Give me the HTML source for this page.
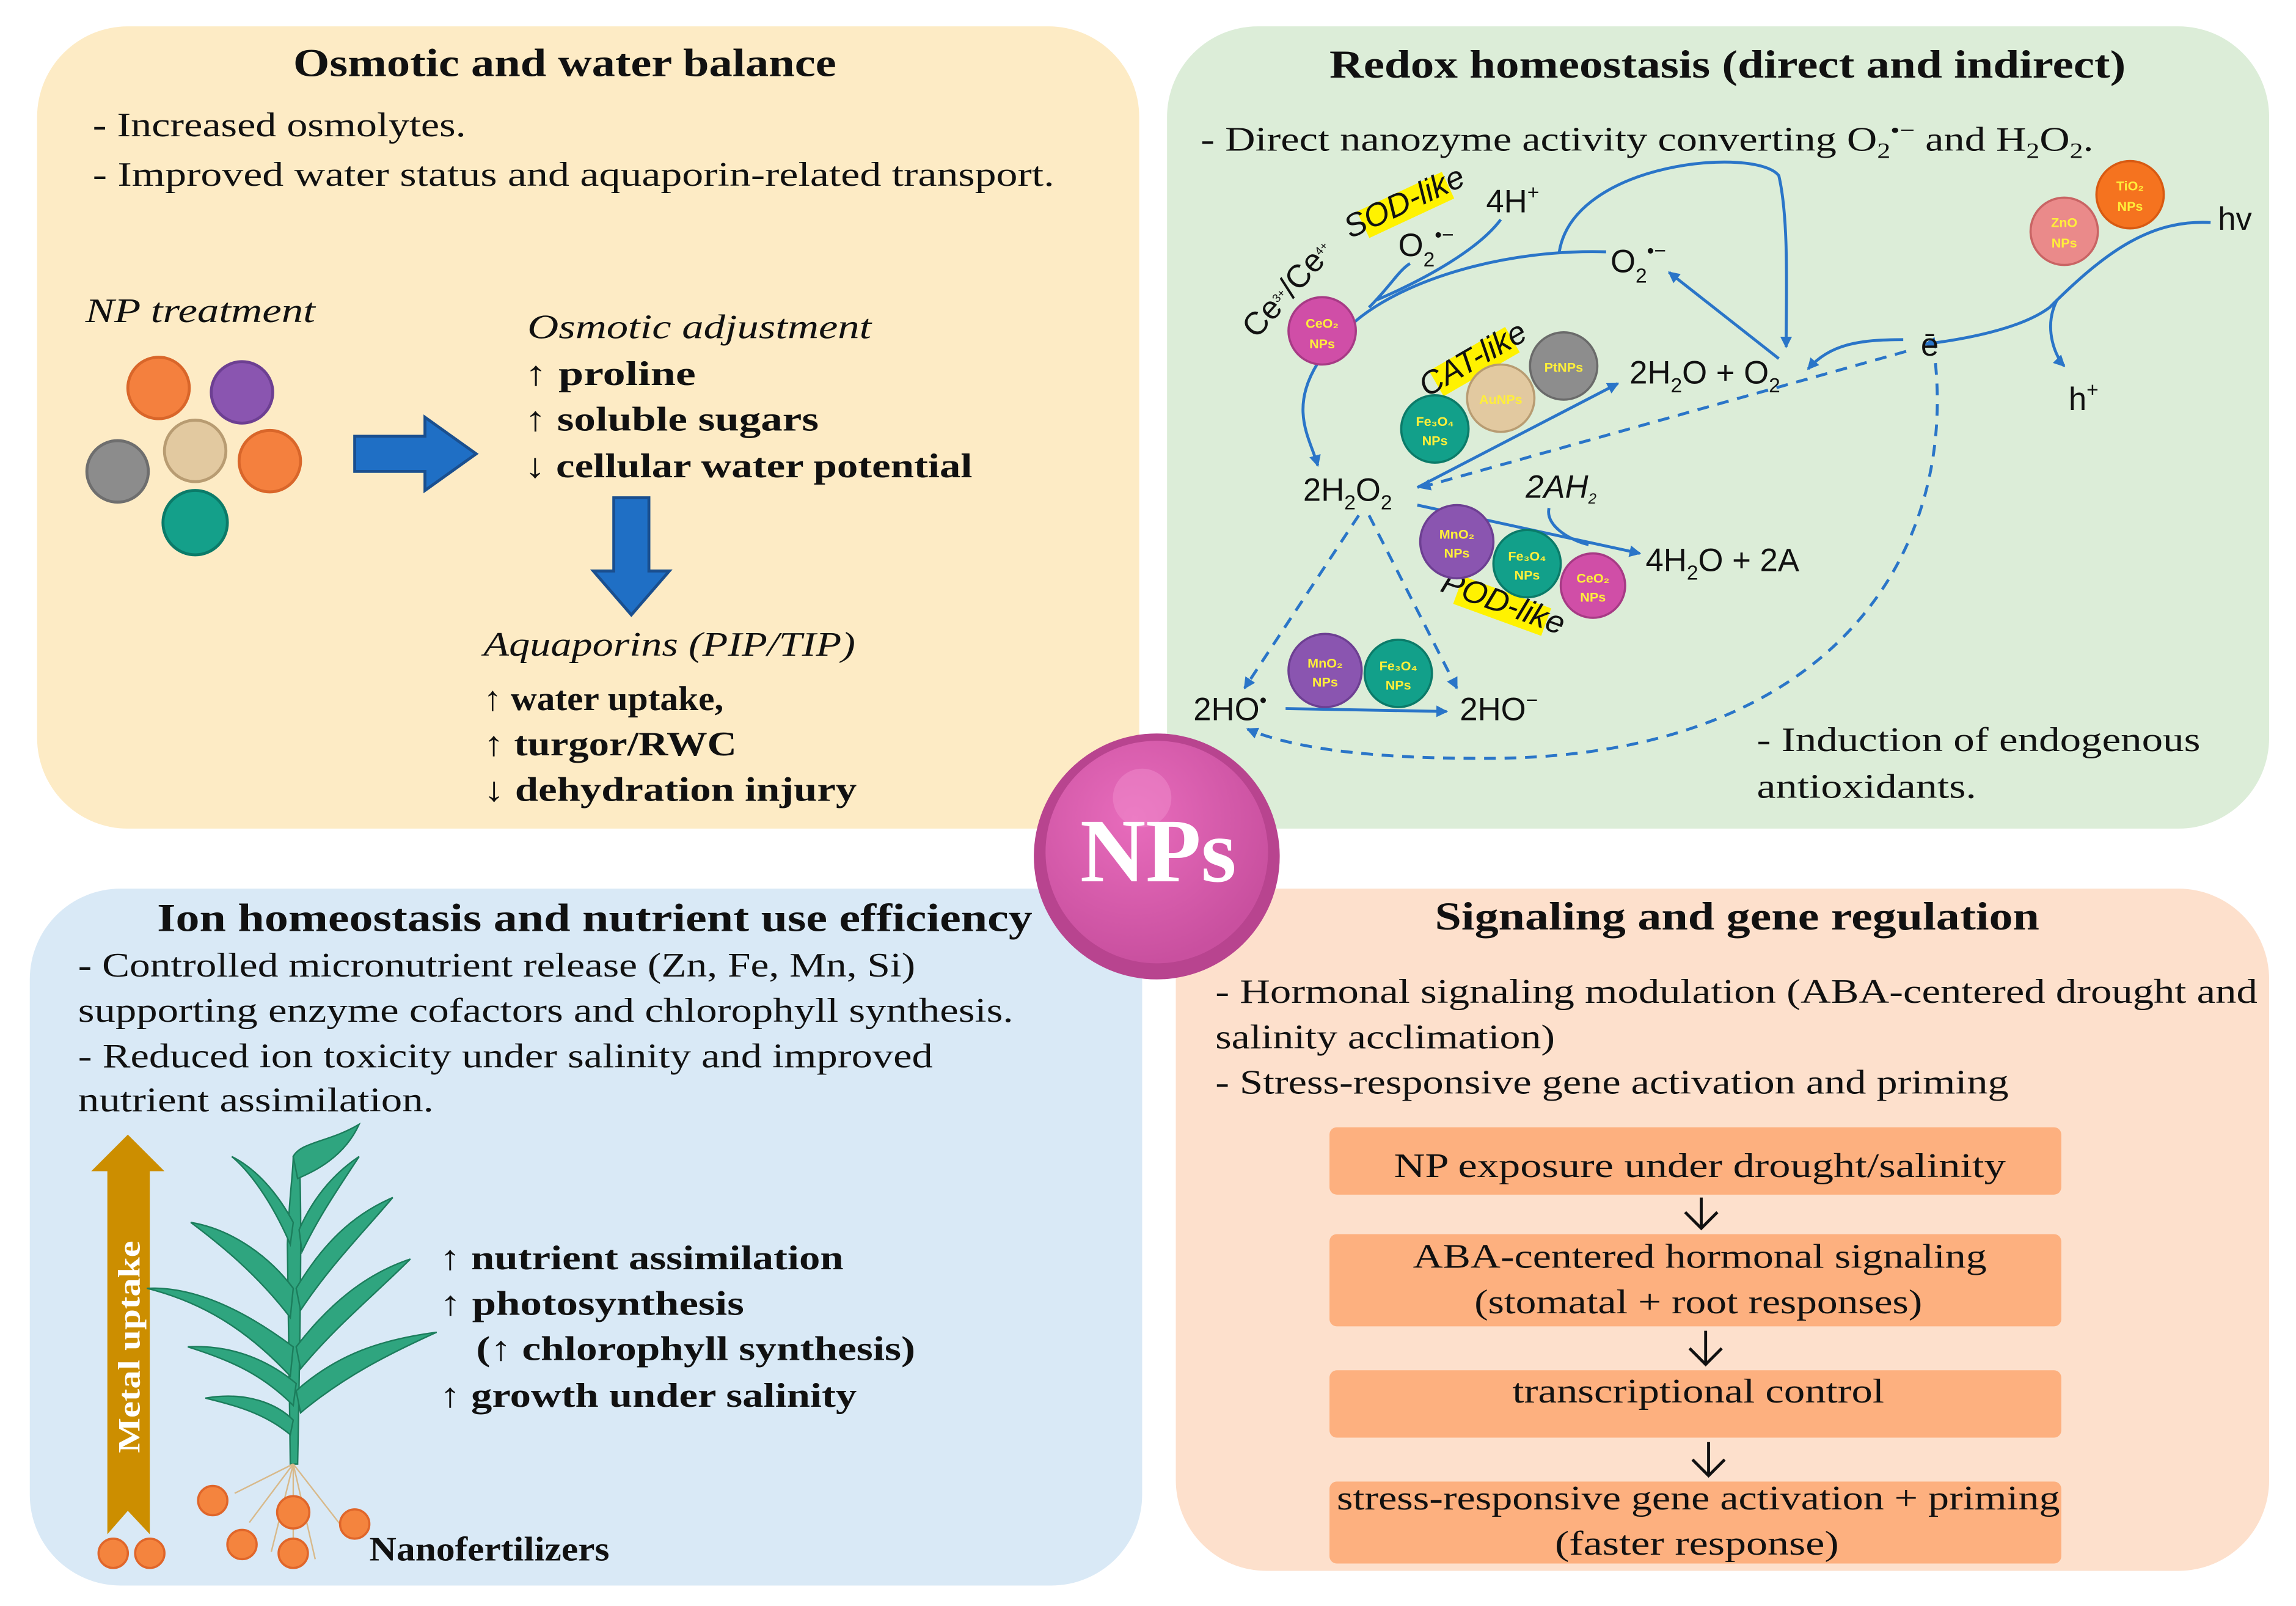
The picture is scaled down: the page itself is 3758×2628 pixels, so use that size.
<!DOCTYPE html>
<html><head><meta charset="utf-8"><style>
html,body{margin:0;padding:0;background:#fff}
svg{display:block}
text{font-family:"Liberation Serif",serif;fill:#111}
.t{font-size:27px;font-weight:bold}
.b{font-size:23.5px}
.bb{font-size:23.5px;font-weight:bold}
.s{font-family:"Liberation Sans",sans-serif;font-size:22px}
.np{font-family:"Liberation Sans",sans-serif;font-size:9px;fill:#ffef3a;font-weight:bold}
</style></head><body>
<svg width="3758" height="2628" viewBox="0 0 1568 1097" xmlns="http://www.w3.org/2000/svg">
<defs>
<marker id="a" markerWidth="8" markerHeight="8" refX="7" refY="4" orient="auto" markerUnits="userSpaceOnUse"><path d="M0,0 L8,4 L0,8 Z" fill="#2a75c8"/></marker>
<radialGradient id="g" cx="40%" cy="35%" r="65%"><stop offset="0" stop-color="#e86cbc"/><stop offset="1" stop-color="#c9509f"/></radialGradient>
</defs>
<!-- panels -->
<rect x="25" y="18" width="753" height="548" rx="62" fill="#fdebc5"/>
<rect x="797" y="18" width="753" height="548" rx="62" fill="#dcedd8"/>
<rect x="20" y="607" width="760" height="476" rx="62" fill="#d9e9f6"/>
<rect x="803" y="607" width="747" height="466" rx="62" fill="#fde0cc"/>

<!-- Yellow panel -->
<text class="t" x="200" y="52" textLength="371" lengthAdjust="spacingAndGlyphs">Osmotic and water balance</text>
<text class="b" x="63" y="93" textLength="255" lengthAdjust="spacingAndGlyphs">- Increased osmolytes.</text>
<text class="b" x="63" y="127" textLength="657" lengthAdjust="spacingAndGlyphs">- Improved water status and aquaporin-related transport.</text>
<text class="b" x="58" y="220" font-style="italic" textLength="157" lengthAdjust="spacingAndGlyphs">NP treatment</text>
<g stroke-width="2">
<circle cx="108" cy="265" r="21" fill="#f4803e" stroke="#d9662a"/>
<circle cx="165" cy="268" r="21" fill="#8a55b0" stroke="#6d3f92"/>
<circle cx="80" cy="322" r="21" fill="#8c8c8c" stroke="#6e6e6e"/>
<circle cx="133" cy="308" r="21" fill="#e2c9a0" stroke="#b89c72"/>
<circle cx="184" cy="315" r="21" fill="#f4803e" stroke="#d9662a"/>
<circle cx="133" cy="357" r="22" fill="#14a08a" stroke="#0b7b69"/>
</g>
<path d="M242,298 L290,298 L290,285 L325,310 L290,335 L290,322 L242,322 Z" fill="#1f6fc5" stroke="#1a4f8f" stroke-width="2"/>
<text class="b" x="360" y="231" font-style="italic" textLength="235" lengthAdjust="spacingAndGlyphs">Osmotic adjustment</text>
<text class="bb" x="358" y="263" textLength="117" lengthAdjust="spacingAndGlyphs">↑ proline</text>
<text class="bb" x="358" y="294" textLength="201" lengthAdjust="spacingAndGlyphs">↑ soluble sugars</text>
<text class="bb" x="358" y="326" textLength="306" lengthAdjust="spacingAndGlyphs">↓ cellular water potential</text>
<path d="M419,340 L443,340 L443,390 L457,390 L431,420 L405,390 L419,390 Z" fill="#1f6fc5" stroke="#1a4f8f" stroke-width="2"/>
<text class="b" x="330" y="448" font-style="italic" textLength="254" lengthAdjust="spacingAndGlyphs">Aquaporins (PIP/TIP)</text>
<text class="bb" x="330" y="485" textLength="164" lengthAdjust="spacingAndGlyphs">↑ water uptake,</text>
<text class="bb" x="330" y="516" textLength="173" lengthAdjust="spacingAndGlyphs">↑ turgor/RWC</text>
<text class="bb" x="330" y="547" textLength="255" lengthAdjust="spacingAndGlyphs">↓ dehydration injury</text>

<!-- Green panel -->
<text class="t" x="908" y="53" textLength="544" lengthAdjust="spacingAndGlyphs">Redox homeostasis (direct and indirect)</text>
<text class="b" x="820" y="103" textLength="610" lengthAdjust="spacingAndGlyphs">- Direct nanozyme activity converting O<tspan font-size="15" dy="5">2</tspan><tspan font-size="15" dy="-14">•−</tspan><tspan dy="9"> and H</tspan><tspan font-size="15" dy="5">2</tspan><tspan dy="-5">O</tspan><tspan font-size="15" dy="5">2</tspan><tspan dy="-5">.</tspan></text>
<g fill="none" stroke="#2a75c8" stroke-width="2">
<path d="M900,248 C880,280 895,300 900,318" marker-end="url(#a)"/>
<path d="M925,220 C960,190 1030,170 1097,172"/>
<path d="M935,210 C950,195 955,185 963,180"/>
<path d="M940,205 C975,190 1010,170 1025,150"/>
<path d="M1065,172 C1075,110 1200,100 1215,120 C1222,150 1220,200 1220,237" marker-end="url(#a)"/>
<path d="M1215,245 L1140,186" marker-end="url(#a)"/>
<path d="M968,333 L1105,262" marker-end="url(#a)"/>
<path d="M1300,232 C1270,232 1250,235 1235,252" marker-end="url(#a)"/>
<path d="M1510,152 C1470,150 1440,170 1400,210 C1380,225 1340,232 1315,235" marker-end="url(#a)"/>
<path d="M1405,205 C1395,225 1405,245 1410,250" marker-end="url(#a)"/>
<path d="M968,345 L1120,378" marker-end="url(#a)"/>
<path d="M1058,347 C1055,360 1075,370 1085,372"/>
<path d="M878,484 L988,486" marker-end="url(#a)"/>
</g>
<g fill="none" stroke="#2a75c8" stroke-width="2" stroke-dasharray="8,6">
<path d="M1302,240 L970,333" marker-end="url(#a)"/>
<path d="M928,352 L850,470" marker-end="url(#a)"/>
<path d="M935,352 L995,470" marker-end="url(#a)"/>
<path d="M1322,248 C1335,380 1250,520 1010,518 C930,518 880,510 852,498" marker-end="url(#a)"/>
</g>
<text class="s" x="1015" y="145">4H<tspan font-size="14" dy="-9">+</tspan></text>
<text class="s" x="955" y="175">O<tspan font-size="14" dy="7">2</tspan><tspan font-size="14" dy="-17">•−</tspan></text>
<text class="s" x="1100" y="186">O<tspan font-size="14" dy="7">2</tspan><tspan font-size="14" dy="-17">•−</tspan></text>
<text class="s" x="1113" y="262">2H<tspan font-size="14" dy="6">2</tspan><tspan dy="-6">O + O</tspan><tspan font-size="14" dy="6">2</tspan></text>
<text class="s" x="1312" y="243">ē</text>
<text class="s" x="1515" y="157">hv</text>
<text class="s" x="1413" y="280">h<tspan font-size="14" dy="-9">+</tspan></text>
<text class="s" x="890" y="342">2H<tspan font-size="14" dy="6">2</tspan><tspan dy="-6">O</tspan><tspan font-size="14" dy="6">2</tspan></text>
<text class="s" x="1042" y="340" font-size="14" font-style="italic">2AH<tspan font-size="10" dy="4">2</tspan></text>
<text class="s" x="1124" y="390">4H<tspan font-size="14" dy="6">2</tspan><tspan dy="-6">O + 2A</tspan></text>
<text class="s" x="815" y="492">2HO<tspan font-size="14" dy="-9">•</tspan></text>
<text class="s" x="997" y="492">2HO<tspan font-size="14" dy="-9">−</tspan></text>
<text class="s" x="0" y="0" font-size="13" transform="translate(858,232) rotate(-48)">Ce<tspan font-size="8" dy="-6">3+</tspan><tspan dy="6">/Ce</tspan><tspan font-size="8" dy="-6">4+</tspan></text>
<g transform="translate(960,140) rotate(-25)"><rect x="-32" y="-10" width="64" height="20" fill="#fff200"/><text class="s" x="0" y="5" font-size="13" text-anchor="middle" font-style="italic">SOD-like</text></g>
<g transform="translate(1007,247) rotate(-30)"><rect x="-30" y="-10" width="60" height="20" fill="#fff200"/><text class="s" x="0" y="5" font-size="13" text-anchor="middle" font-style="italic">CAT-like</text></g>
<g transform="translate(1026,414) rotate(20)"><rect x="-32" y="-10" width="64" height="20" fill="#fff200"/><text class="s" x="0" y="5" font-size="13" text-anchor="middle" font-style="italic">POD-like</text></g>
<g stroke-width="1.5">
<circle cx="903" cy="226" r="23" fill="#d04ea7" stroke="#a73a85"/><text class="np" x="903" y="224" text-anchor="middle">CeO₂</text><text class="np" x="903" y="238" text-anchor="middle">NPs</text>
<circle cx="1068" cy="250" r="23" fill="#8d8d8d" stroke="#6a6a6a"/><text class="np" x="1068" y="254" text-anchor="middle">PtNPs</text>
<circle cx="1025" cy="272" r="23" fill="#e2c9a0" stroke="#b89c72"/><text class="np" x="1025" y="276" text-anchor="middle">AuNPs</text>
<circle cx="980" cy="293" r="23" fill="#12a08a" stroke="#0b7b69"/><text class="np" x="980" y="291" text-anchor="middle">Fe₃O₄</text><text class="np" x="980" y="304" text-anchor="middle">NPs</text>
<circle cx="995" cy="370" r="25" fill="#8a55b0" stroke="#6d3f92"/><text class="np" x="995" y="368" text-anchor="middle">MnO₂</text><text class="np" x="995" y="381" text-anchor="middle">NPs</text>
<circle cx="1043" cy="385" r="23" fill="#12a08a" stroke="#0b7b69"/><text class="np" x="1043" y="383" text-anchor="middle">Fe₃O₄</text><text class="np" x="1043" y="396" text-anchor="middle">NPs</text>
<circle cx="1088" cy="400" r="22" fill="#d04ea7" stroke="#a73a85"/><text class="np" x="1088" y="398" text-anchor="middle">CeO₂</text><text class="np" x="1088" y="411" text-anchor="middle">NPs</text>
<circle cx="905" cy="458" r="25" fill="#8a55b0" stroke="#6d3f92"/><text class="np" x="905" y="456" text-anchor="middle">MnO₂</text><text class="np" x="905" y="469" text-anchor="middle">NPs</text>
<circle cx="955" cy="460" r="23" fill="#12a08a" stroke="#0b7b69"/><text class="np" x="955" y="458" text-anchor="middle">Fe₃O₄</text><text class="np" x="955" y="471" text-anchor="middle">NPs</text>
<circle cx="1410" cy="158" r="23" fill="#ea8a8a" stroke="#c96464"/><text class="np" x="1410" y="155" text-anchor="middle">ZnO</text><text class="np" x="1410" y="169" text-anchor="middle">NPs</text>
<circle cx="1455" cy="133" r="23" fill="#f5731f" stroke="#d85a12"/><text class="np" x="1455" y="130" text-anchor="middle">TiO₂</text><text class="np" x="1455" y="144" text-anchor="middle">NPs</text>
</g>
<text class="b" x="1200" y="513" textLength="303" lengthAdjust="spacingAndGlyphs">- Induction of endogenous</text>
<text class="b" x="1200" y="545" textLength="150" lengthAdjust="spacingAndGlyphs">antioxidants.</text>

<!-- Blue panel -->
<text class="t" x="107" y="636" textLength="598" lengthAdjust="spacingAndGlyphs">Ion homeostasis and nutrient use efficiency</text>
<text class="b" x="53" y="667" textLength="572" lengthAdjust="spacingAndGlyphs">- Controlled micronutrient release (Zn, Fe, Mn, Si)</text>
<text class="b" x="53" y="698" textLength="639" lengthAdjust="spacingAndGlyphs">supporting enzyme cofactors and chlorophyll synthesis.</text>
<text class="b" x="53" y="729" textLength="584" lengthAdjust="spacingAndGlyphs">- Reduced ion toxicity under salinity and improved</text>
<text class="b" x="53" y="759" textLength="243" lengthAdjust="spacingAndGlyphs">nutrient assimilation.</text>
<path d="M73,800 L62,800 L87,775 L112,800 L102,800 L102,1048 L87,1032 L73,1048 Z" fill="#cc8e00"/>
<text transform="translate(95,920) rotate(-90)" text-anchor="middle" font-size="21" font-weight="bold" style="fill:#fff" textLength="145" lengthAdjust="spacingAndGlyphs">Metal uptake</text>
<g fill="#2fa57f" stroke="#1c7d5c" stroke-width="1">
<path d="M198,1000 L196,850 C197,820 200,800 200,790 L204,790 C206,820 205,900 203,1000 Z"/>
<path d="M200,790 C205,780 225,780 245,768 C235,790 215,800 203,805 Z"/>
<path d="M198,900 C175,870 150,850 130,835 C160,840 185,860 200,880 Z"/>
<path d="M198,940 C170,910 140,890 100,880 C140,878 180,905 200,920 Z"/>
<path d="M200,960 C180,940 160,930 128,920 C165,918 190,935 202,945 Z"/>
<path d="M198,980 C180,965 160,960 140,955 C170,950 190,960 200,970 Z"/>
<path d="M202,880 C220,850 240,830 268,818 C245,845 225,865 205,895 Z"/>
<path d="M202,920 C225,890 250,870 280,860 C255,885 230,905 205,935 Z"/>
<path d="M202,950 C230,925 260,915 298,910 C265,925 235,940 205,965 Z"/>
<path d="M198,850 C185,820 170,800 158,790 C178,800 192,820 200,835 Z"/>
<path d="M204,840 C215,815 230,800 245,790 C232,810 218,830 206,855 Z"/>
</g>
<g stroke="#d8b98a" stroke-width="1" fill="none">
<path d="M200,1000 L170,1040 M200,1000 L185,1060 M200,1000 L215,1065 M200,1000 L235,1045 M200,1000 L200,1070 M200,1000 L160,1020"/>
</g>
<g fill="#f4843e" stroke="#e0662a" stroke-width="1.5">
<circle cx="77" cy="1061" r="10"/><circle cx="102" cy="1061" r="10"/><circle cx="145" cy="1025" r="10"/><circle cx="165" cy="1055" r="10"/><circle cx="200" cy="1033" r="11"/><circle cx="200" cy="1061" r="10"/><circle cx="242" cy="1041" r="10"/>
</g>
<text class="bb" x="252" y="1066" font-size="21" textLength="164" lengthAdjust="spacingAndGlyphs">Nanofertilizers</text>
<text class="bb" x="300" y="867" textLength="276" lengthAdjust="spacingAndGlyphs">↑ nutrient assimilation</text>
<text class="bb" x="300" y="898" textLength="208" lengthAdjust="spacingAndGlyphs">↑ photosynthesis</text>
<text class="bb" x="325" y="929" textLength="300" lengthAdjust="spacingAndGlyphs">(↑ chlorophyll synthesis)</text>
<text class="bb" x="300" y="961" textLength="285" lengthAdjust="spacingAndGlyphs">↑ growth under salinity</text>

<!-- Peach panel -->
<text class="t" x="980" y="635" textLength="413" lengthAdjust="spacingAndGlyphs">Signaling and gene regulation</text>
<text class="b" x="830" y="685" textLength="712" lengthAdjust="spacingAndGlyphs">- Hormonal signaling modulation (ABA-centered drought and</text>
<text class="b" x="830" y="716" textLength="232" lengthAdjust="spacingAndGlyphs">salinity acclimation)</text>
<text class="b" x="830" y="747" textLength="542" lengthAdjust="spacingAndGlyphs">- Stress-responsive gene activation and priming</text>
<g fill="#fdb07f">
<rect x="908" y="770" width="500" height="46" rx="5"/>
<rect x="908" y="843" width="500" height="63" rx="5"/>
<rect x="908" y="936" width="500" height="46" rx="5"/>
<rect x="908" y="1012" width="500" height="56" rx="5"/>
</g>
<text class="b" x="952" y="804" textLength="418" lengthAdjust="spacingAndGlyphs">NP exposure under drought/salinity</text>
<text class="b" x="965" y="866" textLength="392" lengthAdjust="spacingAndGlyphs">ABA-centered hormonal signaling</text>
<text class="b" x="1007" y="897" textLength="306" lengthAdjust="spacingAndGlyphs">(stomatal + root responses)</text>
<text class="b" x="1033" y="958" textLength="254" lengthAdjust="spacingAndGlyphs">transcriptional control</text>
<text class="b" x="913" y="1031" textLength="494" lengthAdjust="spacingAndGlyphs">stress-responsive gene activation + priming</text>
<text class="b" x="1062" y="1062" textLength="194" lengthAdjust="spacingAndGlyphs">(faster response)</text>
<g fill="none" stroke="#111" stroke-width="2">
<path d="M1162,818 V839 M1151,828 L1162,839 L1173,828"/>
<path d="M1165,909 V932 M1154,921 L1165,932 L1176,921"/>
<path d="M1167,985 V1008 M1156,997 L1167,1008 L1178,997"/>
</g>

<!-- NPs -->
<circle cx="790" cy="585" r="84" fill="#b8448f"/>
<circle cx="790" cy="582" r="76" fill="url(#g)"/>
<circle cx="780" cy="545" r="20" fill="#f08ccc" opacity="0.5"/>
<text x="791" y="602" font-size="62" font-weight="bold" text-anchor="middle" style="fill:#fff">NPs</text>
</svg>
</body></html>
